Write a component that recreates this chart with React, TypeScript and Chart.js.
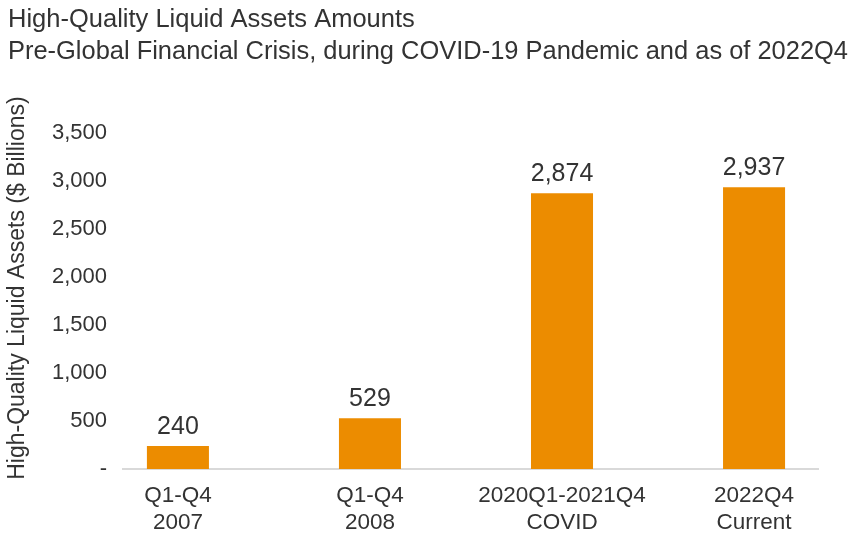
import React, { useEffect, useRef } from "react";
import { Chart, registerables } from "chart.js";

Chart.register(...registerables);

const categories: string[][] = [
  ["Q1-Q4", "2007"],
  ["Q1-Q4", "2008"],
  ["2020Q1-2021Q4", "COVID"],
  ["2022Q4", "Current"],
];
const hqlaValues: number[] = [240, 529, 2874, 2937];
const yTickValues: number[] = [0, 500, 1000, 1500, 2000, 2500, 3000, 3500];
const titleText = "High-Quality Liquid Assets Amounts";
const subtitleText = "Pre-Global Financial Crisis, during COVID-19 Pandemic and as of 2022Q4";
const yAxisTitle = "High-Quality Liquid Assets ($ Billions)";

const FONT = '"Liberation Sans", Arial, Helvetica, sans-serif';
const TEXT = "#333333";
const BAR = "#EC8C00";

const dataLabelPlugin = {
  id: "dataLabels",
  afterDatasetsDraw(chart: any) {
    const ctx = chart.ctx;
    const meta = chart.getDatasetMeta(0);
    ctx.save();
    ctx.font = `25px ${FONT}`;
    ctx.fillStyle = TEXT;
    ctx.textAlign = "center";
    ctx.textBaseline = "middle";
    meta.data.forEach((bar: any, i: number) => {
      ctx.fillText(hqlaValues[i].toLocaleString("en-US"), bar.x, bar.y - 19);
    });
    ctx.restore();
  },
};

const yTitlePlugin = {
  id: "yTitle",
  afterDraw(chart: any) {
    const { ctx, chartArea } = chart;
    ctx.save();
    ctx.translate(18, (chartArea.top + chartArea.bottom) / 2 - 13);
    ctx.rotate(-Math.PI / 2);
    ctx.font = `23px ${FONT}`;
    ctx.fillStyle = TEXT;
    ctx.textAlign = "center";
    ctx.textBaseline = "middle";
    ctx.fillText(yAxisTitle, 0, 0);
    ctx.restore();
  },
};

export default function App() {
  const canvasRef = useRef<HTMLCanvasElement | null>(null);

  useEffect(() => {
    if (!canvasRef.current) return;
    const chart = new Chart(canvasRef.current, {
      type: "bar",
      data: {
        datasets: [
          {
            data: hqlaValues.map((v, i) => ({ x: i, y: v })),
            backgroundColor: BAR,
            borderWidth: 0,
            barPercentage: 0.323,
            categoryPercentage: 1,
          },
        ],
      },
      options: {
        responsive: false,
        animation: false,
        devicePixelRatio: 1,
        layout: { padding: { left: 8, right: 0, top: 0, bottom: 0 } },
        plugins: {
          legend: { display: false },
          tooltip: { enabled: false },
          title: {
            display: true,
            text: titleText,
            align: "start",
            color: TEXT,
            font: { family: FONT, size: 25.5, weight: "normal" },
            padding: { top: 5, bottom: 0 },
          },
          subtitle: {
            display: true,
            text: subtitleText,
            align: "start",
            color: TEXT,
            font: { family: FONT, size: 26.3, weight: "normal" },
            padding: { top: 0, bottom: 66 },
          },
        },
        scales: {
          x: {
            type: "linear",
            offset: false,
            min: -0.286,
            max: 3.333,
            afterBuildTicks: (s: any) => {
              s.ticks = categories.map((_, i) => ({ value: i }));
            },
            afterFit: (s: any) => {
              s.height = 66;
            },
            grid: { display: false, drawTicks: false },
            border: { display: true, color: "#d9d9d9", width: 2 },
            ticks: {
              autoSkip: false,
              maxRotation: 0,
              padding: 13,
              color: TEXT,
              font: { family: FONT, size: 22.5, lineHeight: 1.2 },
              callback: (v: any) => categories[Math.round(Number(v))] ?? "",
            },
          },
          y: {
            min: 0,
            max: 3500,
            afterBuildTicks: (s: any) => {
              s.ticks = yTickValues.map((v) => ({ value: v }));
            },
            afterFit: (s: any) => {
              s.width = 115;
            },
            grid: { display: false, drawTicks: false },
            border: { display: false },
            ticks: {
              padding: 16,
              color: TEXT,
              font: { family: FONT, size: 22 },
              callback: (v: any) => (Number(v) === 0 ? "-" : Number(v).toLocaleString("en-US")),
            },
          },
          yRightSpace: {
            type: "linear",
            position: "right",
            display: true,
            min: 0,
            max: 3500,
            grid: { display: false, drawTicks: false },
            border: { display: false },
            ticks: { display: false },
            afterFit: (s: any) => {
              s.width = 30;
            },
          },
        },
      },
      plugins: [dataLabelPlugin, yTitlePlugin],
    } as any);
    return () => chart.destroy();
  }, []);

  return (
    <div style={{ position: "absolute", left: 0, top: 0, width: 848, height: 535, background: "#fff" }}>
      <canvas ref={canvasRef} width={848} height={535} style={{ display: "block" }} />
    </div>
  );
}
